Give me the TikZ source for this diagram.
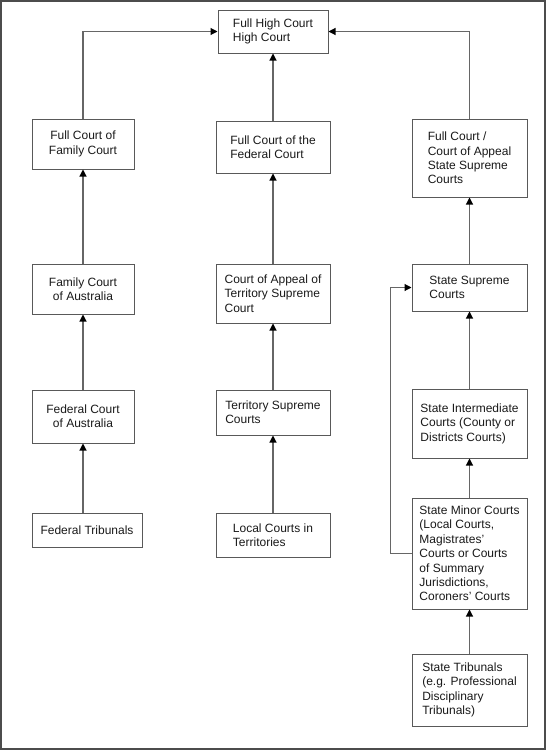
\documentclass[tikz,border=0pt]{standalone}
\usepackage{fontspec}
\setmainfont{Liberation Sans}
\usepackage{tikz}
\usetikzlibrary{positioning,arrows.meta,calc}
\tikzset{
  up/.style={-{Triangle[length=7pt, width=7pt, color=black]}, line width=1.1pt, color=black!60},
  court/.style={rectangle, draw=black!65, line width=1pt, align=left, inner sep=2pt,
    font=\fontsize{12}{14.4}\selectfont, text=black!90},
  frame/.style={draw=black!70, line width=2pt}
}
\begin{document}
\begin{tikzpicture}[x=1pt, y=-1pt]
\useasboundingbox (0,0) rectangle (546,750);
\draw[frame] (1,1) rectangle (545,749);
% top
\node[court, minimum width=110pt, minimum height=43pt] (high) at (273,31.5) {Full High Court\\High Court};
% family / federal column
\node[court, align=center, minimum width=102pt, minimum height=50pt] (famfull) at (83,144) {Full Court of\\Family Court};
\node[court, align=center, minimum width=102pt, minimum height=50pt] (fam) at (83,289) {Family Court\\of Australia};
\node[court, align=center, minimum width=102pt, minimum height=53pt] (fedc) at (83,416.5) {Federal Court\\of Australia};
\node[court, minimum width=110pt, minimum height=34pt] (fedtrib) at (87,530) {Federal Tribunals};
% territory column
\node[court, minimum width=114pt, minimum height=52pt] (fedfull) at (273,147) {Full Court of the\\Federal Court};
\node[court, minimum width=114pt, minimum height=59pt] (terrapp) at (273,293.5) {Court of Appeal of\\Territory Supreme\\Court};
\node[court, minimum width=114pt, minimum height=45pt] (terr) at (273,412.5) {Territory Supreme\\Courts};
\node[court, minimum width=114pt, minimum height=44pt] (local) at (273,535) {Local Courts in\\Territories};
% state column
\node[court, minimum width=115pt, minimum height=78pt] (statefull) at (469.5,158) {Full Court /\\Court of Appeal\\State Supreme\\Courts};
\node[court, minimum width=115pt, minimum height=47pt] (statesup) at (469.5,287.5) {State Supreme\\Courts};
\node[court, minimum width=115pt, minimum height=69pt] (stateint) at (469.5,423.5) {State Intermediate\\Courts (County or\\Districts Courts)};
\node[court, minimum width=115pt, minimum height=111pt] (minor) at (469.5,553.5) {State Minor Courts\\(Local Courts,\\Magistrates'\\Courts or Courts\\of Summary\\Jurisdictions,\\Coroners' Courts};
\node[court, minimum width=115pt, minimum height=72pt] (statetrib) at (469.5,690) {State Tribunals\\(e.g. Professional\\Disciplinary\\Tribunals)};
% appeals
\draw[up] (famfull.north) |- (high.west);
\draw[up] (fedfull.north) -- (high.south);
\draw[up] (statefull.north) |- (high.east);
\draw[up] (fam.north) -- (famfull.south);
\draw[up] (fedc.north) -- (fam.south);
\draw[up] (fedtrib.north -| fedc.south) -- (fedc.south);
\draw[up] (terrapp.north) -- (fedfull.south);
\draw[up] (terr.north) -- (terrapp.south);
\draw[up] (local.north) -- (terr.south);
\draw[up] (statesup.north) -- (statefull.south);
\draw[up] (stateint.north) -- (statesup.south);
\draw[up] (minor.north) -- (stateint.south);
\draw[up] (statetrib.north) -- (minor.south);
\draw[up] (minor.west) -- ++(-21,0) |- (statesup.west);
\end{tikzpicture}
\end{document}
